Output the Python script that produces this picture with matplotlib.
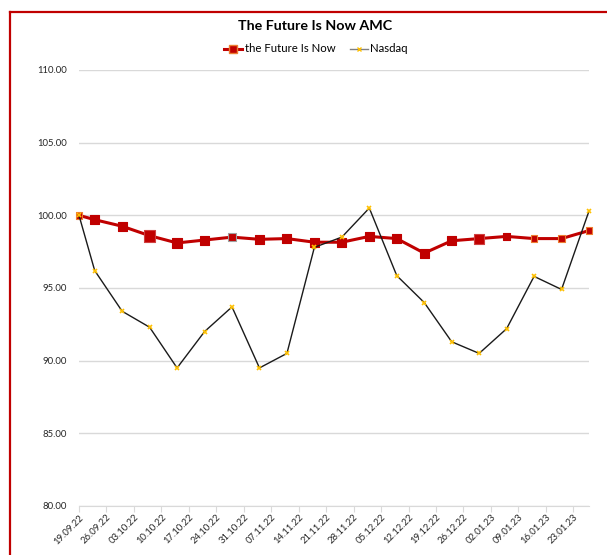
import datetime as dt
import matplotlib
matplotlib.use("Agg")
import matplotlib.pyplot as plt
import matplotlib.dates as mdates
from matplotlib.lines import Line2D

# data
dates = ["19.09.22", "23.09.22", "30.09.22", "07.10.22", "14.10.22", "21.10.22",
         "28.10.22", "04.11.22", "11.11.22", "18.11.22", "25.11.22", "02.12.22",
         "09.12.22", "16.12.22", "23.12.22", "30.12.22", "06.01.23", "13.01.23",
         "20.01.23", "27.01.23"]
future_is_now = [100.0, 99.7, 99.25, 98.6, 98.1, 98.3, 98.5, 98.35, 98.4, 98.15,
                 98.15, 98.55, 98.4, 97.4, 98.25, 98.4, 98.55, 98.4, 98.4, 98.95]
nasdaq = [100.0, 96.2, 93.4, 92.3, 89.5, 92.0, 93.7, 89.5, 90.5, 97.8,
          98.5, 100.5, 95.85, 94.0, 91.3, 90.5, 92.2, 95.8, 94.9, 100.3]
y_ticks = [80, 85, 90, 95, 100, 105, 110]

# marker look of the red series (sizes in points, edge colours)
red_sizes = [5.0, 6.5, 6.5, 8.4, 6.8, 6.5, 6.0, 6.8, 6.5, 6.5,
             6.5, 6.8, 6.8, 6.5, 6.5, 7.2, 5.4, 4.8, 4.8, 4.8]
red_edges = ["#ED7D31", "#C00000", "#C00000", "#D04040", "#C00000", "#C00000",
             "#A0A0A0", "#C00000", "#C00000", "#C00000", "#C00000", "#C00000",
             "#C00000", "#C00000", "#C00000", "#D04040", "#C00000", "#ED7D31",
             "#ED7D31", "#ED7D31"]

x = [dt.datetime.strptime(d, "%d.%m.%y") for d in dates]

plt.rcParams['font.family'] = ['Lato', 'DejaVu Sans']
fig = plt.figure(figsize=(6.07, 5.55), dpi=100)
ax = fig.add_axes([79 / 607, 1 - 506 / 555, 510 / 607, 436 / 555])

ax.plot(x, future_is_now, color="#C00000", linewidth=2.2, zorder=3,
        solid_capstyle="round", clip_on=False)
ax.scatter(x, future_is_now, marker="s", s=[v ** 2 for v in red_sizes],
           c="#C00000", edgecolors=red_edges, linewidths=0.8, zorder=4,
           clip_on=False)
ax.plot(x, nasdaq, color="#1a1a1a", linewidth=1.0, marker="x",
        markersize=3.5, markeredgecolor="#FFC000", markeredgewidth=1.2,
        zorder=5, clip_on=False)

ax.set_xlim(x[0], x[-1])
ax.set_ylim(80, 110)
ax.set_yticks(y_ticks)
ax.yaxis.set_major_formatter(matplotlib.ticker.FormatStrFormatter("%.2f"))
ax.xaxis.set_major_locator(mdates.WeekdayLocator(byweekday=mdates.MO))
ax.xaxis.set_major_formatter(mdates.DateFormatter("%d.%m.%y"))

ax.grid(axis="y", color="#D9D9D9", linewidth=1.0)
ax.set_axisbelow(True)
for s in ["top", "right", "left"]:
    ax.spines[s].set_visible(False)
ax.spines["bottom"].set_color("#D9D9D9")
ax.tick_params(axis="y", length=0, labelsize=6.8, labelcolor="#262626", pad=8.6)
ax.tick_params(axis="x", length=4, color="#D9D9D9", labelsize=6.8,
               labelcolor="#262626", pad=1)
plt.setp(ax.get_xticklabels(), rotation=45, ha="right", rotation_mode="anchor")

fig.text(315.5 / 607, 1 - 26 / 555, "The Future Is Now AMC", ha="center",
         va="center", fontsize=10.3, fontweight="bold")

handles = [Line2D([], [], color="#C00000", linewidth=2.2, marker="s",
                  markersize=5.5, markerfacecolor="#C00000",
                  markeredgecolor="#ED7D31"),
           Line2D([], [], color="#808080", linewidth=1.0, marker="x",
                  markersize=3.5, markeredgecolor="#FFC000")]
fig.legend(handles, ["the Future Is Now", "Nasdaq"], loc="center",
           bbox_to_anchor=(316 / 607, 1 - 49 / 555), ncol=2, frameon=False,
           fontsize=8.2, handlelength=1.6, handletextpad=0.2, columnspacing=1.3)

# red frame of the chart (cropped on the right and bottom)
fig.add_artist(Line2D([10 / 607, 10 / 607], [0, 1 - 12 / 555],
                      transform=fig.transFigure, color="#C00000", linewidth=1.6))
fig.add_artist(Line2D([10 / 607, 1], [1 - 12 / 555, 1 - 12 / 555],
                      transform=fig.transFigure, color="#C00000", linewidth=1.6))

fig.savefig("out.png", dpi=100)
